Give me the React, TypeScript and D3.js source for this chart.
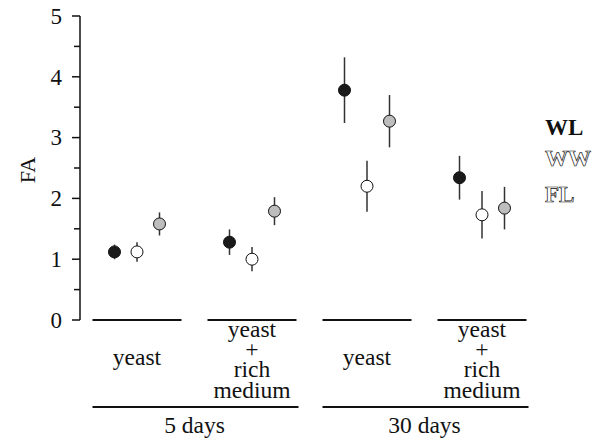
import React from "react";
import * as d3 from "d3";

const groups = ["5d-yeast", "5d-rich", "30d-yeast", "30d-rich"];
const groupLabels: string[][] = [["yeast"], ["yeast", "+", "rich", "medium"], ["yeast"], ["yeast", "+", "rich", "medium"]];
const periods = ["5 days", "30 days"];
const periodGroups = [[0, 1], [2, 3]];
const series = ["WL", "WW", "FL"];
const wlValues = [1.12, 1.28, 3.78, 2.34];
const wlErrors = [0.12, 0.21, 0.54, 0.36];
const wwValues = [1.12, 1.0, 2.2, 1.73];
const wwErrors = [0.16, 0.2, 0.42, 0.39];
const flValues = [1.58, 1.79, 3.27, 1.84];
const flErrors = [0.19, 0.23, 0.43, 0.35];
const yTicks = [0, 1, 2, 3, 4, 5];
const yMinorTicks = [0.5, 1.5, 2.5, 3.5, 4.5];

const values = [wlValues, wwValues, flValues];
const errors = [wlErrors, wwErrors, flErrors];
const fills = ["#1a1a1a", "#ffffff", "#bdbdbd"];

const W = 602, H = 441;
const FONT = "'Liberation Serif', 'Times New Roman', serif";

export default function App() {
  const y = d3.scaleLinear().domain([0, 5]).range([320, 16]);
  const x = d3.scaleBand<string>().domain(groups).range([79.5, 539.5]).paddingInner(26 / 115).paddingOuter(0.113);
  const bw = x.bandwidth();
  const axisX = 80;
  const FS = 23.5;

  const lineH = 20.2;
  return (
    <svg width={W} height={H} style={{ position: "absolute", left: 0, top: 0, background: "#fff" }} fontFamily={FONT}>
      {/* y axis */}
      <line x1={axisX} x2={axisX} y1={y(5)} y2={y(0)} stroke="#111" strokeWidth={1.5} />
      {yTicks.map((t) => (
        <g key={"t" + t}>
          <line x1={axisX - 8} x2={axisX} y1={y(t)} y2={y(t)} stroke="#111" strokeWidth={1.5} />
          <text x={62} y={y(t)} dy="0.34em" textAnchor="end" fontSize={23} fill="#111">{t}</text>
        </g>
      ))}
      {yMinorTicks.map((t) => (
        <line key={"m" + t} x1={axisX - 6} x2={axisX} y1={y(t)} y2={y(t)} stroke="#111" strokeWidth={1.5} />
      ))}
      <text transform={`translate(35,${170}) rotate(-90)`} textAnchor="middle" fontSize={22} fill="#111">FA</text>

      {/* group lines and labels */}
      {groups.map((g, i) => {
        const x0 = x(g)!;
        const cx = x0 + bw / 2;
        const lbl = groupLabels[i];
        return (
          <g key={g}>
            <line x1={x0} x2={x0 + bw} y1={y(0)} y2={y(0)} stroke="#111" strokeWidth={2} />
            {lbl.length === 1 ? (
              <text x={cx} y={365} textAnchor="middle" fontSize={FS} fill="#111">{lbl[0]}</text>
            ) : (
              lbl.map((s, k) => (
                <text key={k} x={cx} y={337 + k * lineH} textAnchor="middle" fontSize={FS} fill="#111">{s}</text>
              ))
            )}
          </g>
        );
      })}
      {periods.map((p, i) => {
        const [a, b] = periodGroups[i];
        const x0 = x(groups[a])!;
        const x1 = x(groups[b])! + bw;
        return (
          <g key={p}>
            <line x1={x0} x2={x1 + 2} y1={407} y2={407} stroke="#111" strokeWidth={2} />
            <text x={(x0 + x1) / 2} y={433} textAnchor="middle" fontSize={FS} fill="#111">{p}</text>
          </g>
        );
      })}

      {/* points */}
      {groups.map((g) => {
        const cx = x(g)! + bw / 2;
        const xs = d3.scalePoint<string>().domain(series).range([cx - 22.5, cx + 22.5]);
        return series.map((s, si) => {
          const gi = groups.indexOf(g);
          const v = values[si][gi];
          const e = errors[si][gi];
          const px = xs(s)!;
          return (
            <g key={g + s}>
              <line x1={px} x2={px} y1={y(v + e)} y2={y(v - e)} stroke="#333" strokeWidth={1.5} />
              <circle cx={px} cy={y(v)} r={6} fill={fills[si]} stroke="#111" strokeWidth={1} />
            </g>
          );
        });
      })}

      {/* legend */}
      <text x={545} y={135} fontSize={23} fontWeight="bold" fill="#111">WL</text>
      <text x={545} y={166} fontSize={23} fontWeight="bold" fill="#fff" stroke="#111" strokeWidth={0.7}>WW</text>
      <text x={545} y={202} fontSize={23} fontWeight="bold" fill="#fff" stroke="#111" strokeWidth={0.7}>FL</text>
    </svg>
  );
}
